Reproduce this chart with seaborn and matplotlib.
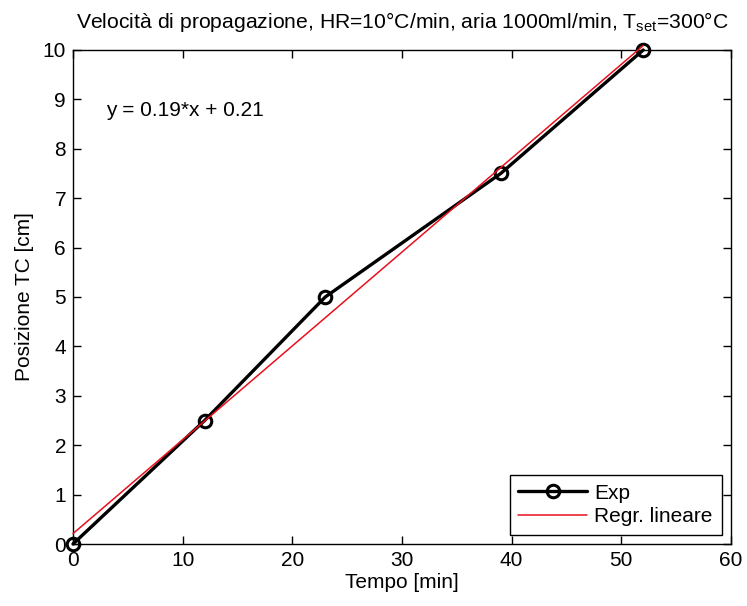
import numpy as np
import pandas as pd
import matplotlib
matplotlib.use("Agg")
import matplotlib.pyplot as plt
import seaborn as sns

tempo = [0, 12, 23, 39, 52]
posizione = [0, 2.5, 5, 7.5, 10]
slope = 0.19
intercept = 0.21
reg_x = [0, 52]

sns.set_theme(style="ticks")
plt.rcParams['font.family'] = ['Liberation Sans', 'DejaVu Sans']
plt.rcParams['mathtext.fontset'] = 'custom'
plt.rcParams['mathtext.rm'] = 'Liberation Sans'
plt.rcParams['mathtext.it'] = 'Liberation Sans'
plt.rcParams['text.color'] = 'black'
plt.rcParams['axes.labelcolor'] = 'black'

FS = 15

fig = plt.figure(figsize=(7.47, 6.06), dpi=100)
ax = fig.add_axes([73/747, 1-544/606, (731-73)/747, (544-50)/606])

df_exp = pd.DataFrame({"x": tempo, "y": posizione})
reg_y = [slope * v + intercept for v in reg_x]
df_reg = pd.DataFrame({"x": reg_x, "y": reg_y})

sns.lineplot(data=df_exp, x="x", y="y", ax=ax, color="black", linewidth=2.4,
             marker="o", markersize=9, markerfacecolor="none",
             markeredgecolor="black", markeredgewidth=2.2, label="Exp",
             zorder=3, clip_on=False)
sns.lineplot(data=df_reg, x="x", y="y", ax=ax, color="#e8101c", linewidth=1.1,
             label="Regr. lineare", zorder=4, clip_on=False)

ax.set_xlim(0, 60)
ax.set_ylim(0, 10)
ax.set_xticks(np.arange(0, 61, 10))
ax.set_yticks(np.arange(0, 11, 1))
ax.tick_params(direction="in", top=True, right=True, length=6, width=1,
               labelsize=FS, colors="black", pad=5)
for s in ax.spines.values():
    s.set_visible(True)
    s.set_color("black")
    s.set_linewidth(1)

ax.set_xlabel("Tempo [min]", fontsize=FS, labelpad=2)
ax.set_ylabel("Posizione TC [cm]", fontsize=FS, labelpad=6)
ax.set_title(r"Velocità di propagazione, HR=10°C/min, aria 1000ml/min, T$_{\rm set}$=300°C",
             fontsize=15.2, pad=16)
ax.text(3.0, 8.78, "y = 0.19*x + 0.21", fontsize=FS, va="center", ha="left")

leg = ax.legend(loc="lower right", fontsize=FS, frameon=True, fancybox=False,
                edgecolor="black", framealpha=1, borderaxespad=0.45,
                handlelength=3.3, labelspacing=0.2, borderpad=0.42,
                handletextpad=0.35)
leg.get_frame().set_linewidth(1)

fig.savefig("out.png", dpi=100)
